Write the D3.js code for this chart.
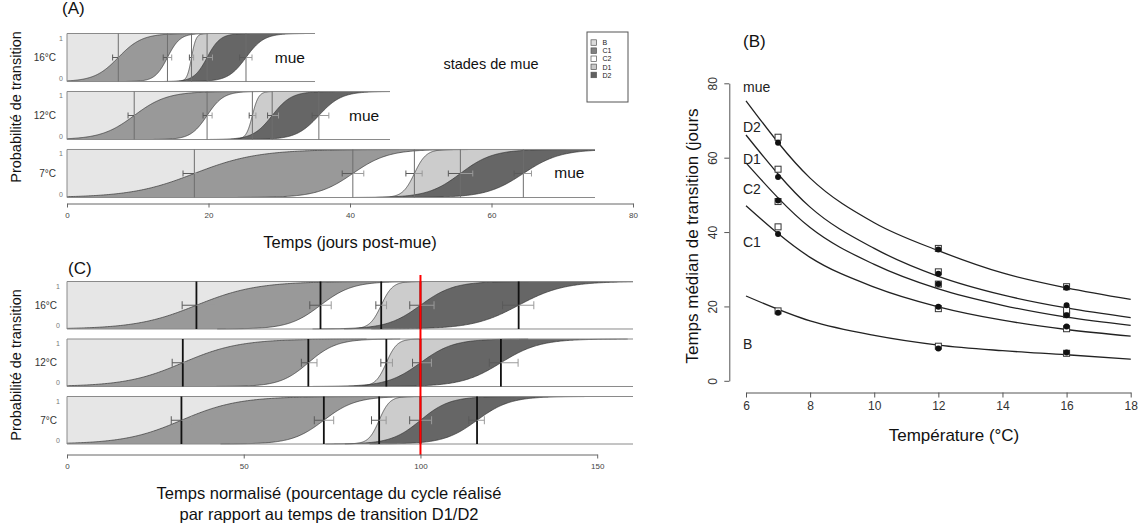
<!DOCTYPE html>
<html>
<head>
<meta charset="utf-8">
<script src="https://cdn.jsdelivr.net/npm/d3@7"></script>
<style>
body { margin: 0; background: #fff; }
svg { font-family: "Liberation Sans", Arial, Helvetica, sans-serif; }
</style>
</head>
<body>
<script>
// ---------- data ----------
const temps = ["16°C", "12°C", "7°C"];
const stages = ["B", "C1", "C2", "D1", "D2"];

// median transition day (B>C1, C1>C2, C2>D1, D1>D2, D2>mue)
const median16 = [7.25, 14.2, 17.6, 19.8, 25.3];
const median12 = [9.5, 19.8, 26.2, 29.0, 35.6];
const median7 = [18.0, 40.4, 49.1, 55.6, 64.5];
// logistic spread of each transition curve (days)
const spread16 = [1.68, 0.89, 0.32, 0.93, 1.27];
const spread12 = [2.32, 1.16, 0.44, 1.36, 1.6];
const spread7 = [4.45, 2.5, 0.83, 2.3, 2.6];
// error bars, lower and upper half (days)
const errLo16 = [0.8, 0.6, 0.3, 0.6, 0.9];
const errHi16 = [1.05, 0.6, 0.3, 0.76, 0.85];
const errLo12 = [0.87, 0.57, 0.45, 0.65, 0.95];
const errHi12 = [0.9, 0.71, 0.5, 0.9, 1.41];
const errLo7 = [1.6, 1.5, 1.2, 1.7, 1.3];
const errHi7 = [1.6, 1.55, 1.1, 1.75, 1.15];
// last day of each strip
const stripEnd = [35.1, 45.6, 74.6];

const ticksA = [0, 20, 40, 60, 80];
const ticksC = [0, 50, 100, 150];

// panel B: fitted curves read at these temperatures
const tempGrid = [6, 8, 10, 12, 14, 16, 18];
const fitC1 = [22.8, 16.1, 12.2, 9.6, 8.1, 7.0, 5.8];
const fitC2 = [47.1, 33.2, 25.2, 19.9, 16.3, 13.8, 12.0];
const fitD1 = [58.6, 41.2, 31.3, 24.7, 20.3, 17.1, 14.9];
const fitD2 = [66.1, 46.7, 35.6, 28.1, 23.1, 19.6, 17.0];
const fitMue = [75.3, 54.5, 42.5, 35.0, 29.0, 25.0, 21.9];
// observed points (7, 12, 16 °C)
const obsTemps = [7, 12, 16];
const dotC1 = [18.3, 8.7, 7.6], sqC1 = [18.8, 9.3, 7.4];
const dotC2 = [39.5, 19.9, 14.6], sqC2 = [41.4, 19.4, 14.0];
const dotD1 = [48.5, 26.0, 17.6], sqD1 = [48.2, 26.0, 17.8];
const dotD2 = [54.8, 28.8, 20.3], sqD2 = [56.9, 29.3, 19.0];
const dotMue = [64.0, 35.3, 25.0], sqMue = [65.5, 35.6, 25.3];
const regionLabels = ["mue", "D2", "D1", "C2", "C1", "B"];
const regionLabelY = [79.0, 68.3, 59.6, 51.5, 37.3, 9.8];
const ticksBx = [6, 8, 10, 12, 14, 16, 18];
const ticksBy = [0, 20, 40, 60, 80];

// ---------- styles ----------
const fillColors = ["#e6e6e6", "#999999", "#ffffff", "#cccccc", "#666666", "#ffffff"];
const legendColors = ["#dcdcdc", "#808080", "#ffffff", "#c8c8c8", "#606060"];

const medians = [median16, median12, median7];
const spreads = [spread16, spread12, spread7];
const errLo = [errLo16, errLo12, errLo7];
const errHi = [errHi16, errHi12, errHi7];

const svg = d3.select("body").append("svg")
    .attr("width", 1146)
    .attr("height", 528);

const logistic = (t, m, s) => 1 / (1 + Math.exp(-(t - m) / s));

// one strip of stacked stage areas
function drawStrip(g, x, top, h, end, med, spr, lo, hi, st) {
    const yP = d3.scaleLinear([0, 1], [top + h, top]);
    const xEnd = Math.round(x(end)); // whole pixel, avoids a seam at the right edge
    const xs = t => (t >= end ? xEnd : x(t));
    const ts = d3.range(0, end, end / 700).concat([end]);
    g.append("rect")
        .attr("x", x(0)).attr("y", top)
        .attr("width", xEnd - x(0)).attr("height", h)
        .attr("fill", fillColors[0]);
    med.forEach((m, i) => {
        const area = d3.area()
            .x(t => xs(t))
            .y0(yP(0))
            .y1(t => yP(logistic(t, m, spr[i])));
        g.append("path").datum(ts).attr("d", area).attr("fill", fillColors[i + 1]);
    });
    //curve outlines
    med.forEach((m, i) => {
        const a = Math.max(0, m - 6.5 * spr[i]), b = Math.min(end, m + 6.5 * spr[i]);
        const tt = d3.range(a, b, (b - a) / 200).concat([b]);
        g.append("path").datum(tt)
            .attr("d", d3.line().x(t => xs(t)).y(t => yP(logistic(t, m, spr[i]))))
            .attr("fill", "none")
            .attr("stroke", "#333")
            .attr("stroke-width", 0.7);
    });
    // borders (open on the right)
    g.append("path")
        .attr("d", `M${xEnd},${top}H${x(0)}V${top + h}H${xEnd}`)
        .attr("fill", "none")
        .attr("stroke", "#8a8a8a")
        .attr("stroke-width", 1);
    // median lines
    med.forEach(m => {
        g.append("line")
            .attr("x1", x(m)).attr("x2", x(m))
            .attr("y1", top).attr("y2", top + h)
            .attr("stroke", st.vColor)
            .attr("stroke-width", st.vWidth);
    });
    // error bars
    const ym = yP(0.5);
    med.forEach((m, i) => {
        const parts = [[m - lo[i], m, "#5a5a5a"], [m, m + hi[i], "#9a9a9a"]];
        parts.forEach(([a, b, c], k) => {
            const xe = k === 0 ? x(a) : x(b);
            g.append("path")
                .attr("d", `M${x(a)},${ym}H${x(b)}M${xe},${ym - st.cap}V${ym + st.cap}`)
                .attr("fill", "none")
                .attr("stroke", c)
                .attr("stroke-width", 1);
        });
    });
}

// ---------- panel A ----------
const xA = d3.scaleLinear([0, 80], [67, 633]);
const yA = d3.scaleBand(temps, [33.5, 197.5]).paddingInner(0.172);
const gA = svg.append("g");

temps.forEach((tp, j) => {
    const top = yA(tp), h = yA.bandwidth();
    drawStrip(gA, xA, top, h, stripEnd[j], medians[j], spreads[j], errLo[j], errHi[j],
        { vColor: "#6e6e6e", vWidth: 1, cap: 3 });
    gA.append("text").attr("x", 56).attr("y", top + h / 2 + 3.5)
        .attr("text-anchor", "end").attr("font-size", 10).attr("fill", "#333").text(tp);
    gA.append("text").attr("x", 63).attr("y", top + 7)
        .attr("text-anchor", "end").attr("font-size", 7).attr("fill", "#777").text("1");
    gA.append("text").attr("x", 63).attr("y", top + h - 1)
        .attr("text-anchor", "end").attr("font-size", 7).attr("fill", "#777").text("0");
    gA.append("text").attr("x", xA(stripEnd[j] - 3.6)).attr("y", top + h / 2 + 5)
        .attr("text-anchor", "middle").attr("font-size", 15.5).attr("fill", "#111").text("mue");
});

const axA = gA.append("g")
    .attr("transform", "translate(0,203.5)")
    .call(d3.axisBottom(xA).tickValues(ticksA).tickSize(4).tickSizeOuter(0).tickPadding(5));
axA.selectAll("path,line").attr("stroke", "#666");
axA.selectAll("text").attr("font-size", 8).attr("fill", "#444").attr("font-family", null);

gA.append("text").attr("x", 350).attr("y", 248).attr("text-anchor", "middle")
    .attr("font-size", 16.5).attr("fill", "#111").text("Temps (jours post-mue)");
gA.append("text").attr("x", 62).attr("y", 14).attr("font-size", 17).attr("fill", "#111").text("(A)");
gA.append("text").attr("transform", "translate(21,107) rotate(-90)")
    .attr("text-anchor", "middle").attr("font-size", 14.5).attr("fill", "#111")
    .text("Probabilité de transition");
gA.append("text").attr("x", 491).attr("y", 69).attr("text-anchor", "middle")
    .attr("font-size", 14.5).attr("fill", "#111").text("stades de mue");

// legend
const leg = gA.append("g");
leg.append("rect").attr("x", 587).attr("y", 32).attr("width", 41).attr("height", 70)
    .attr("fill", "#fff").attr("stroke", "#555").attr("stroke-width", 1);
stages.forEach((s, i) => {
    const yy = 42.6 + i * 8.1;
    leg.append("rect").attr("x", 591).attr("y", yy - 2.8).attr("width", 5.5).attr("height", 5.5)
        .attr("fill", legendColors[i]).attr("stroke", "#555").attr("stroke-width", 0.7);
    leg.append("text").attr("x", 602.5).attr("y", yy + 2.6).attr("font-size", 7)
        .attr("fill", "#222").text(s);
});

// ---------- panel C ----------
const xC = d3.scaleLinear([0, 150], [67, 597.2]);
const yC = d3.scaleBand(temps, [281.5, 444]).paddingInner(0.174);
const gC = svg.append("g");

temps.forEach((tp, j) => {
    const top = yC(tp), h = yC.bandwidth();
    const k = 100 / medians[j][3];
    const sc = arr => arr.map(v => v * k);
    drawStrip(gC, xC, top, h, 160, sc(medians[j]), sc(spreads[j]), sc(errLo[j]), sc(errHi[j]),
        { vColor: "#111", vWidth: 1.8, cap: 4 });
    gC.append("text").attr("x", 57).attr("y", top + h / 2 + 3.5)
        .attr("text-anchor", "end").attr("font-size", 10).attr("fill", "#333").text(tp);
    gC.append("text").attr("x", 60).attr("y", top + 7)
        .attr("text-anchor", "end").attr("font-size", 7).attr("fill", "#777").text("1");
    gC.append("text").attr("x", 60).attr("y", top + h - 1)
        .attr("text-anchor", "end").attr("font-size", 7).attr("fill", "#777").text("0");
});

gC.append("line")
    .attr("x1", xC(100)).attr("x2", xC(100))
    .attr("y1", 275).attr("y2", 455)
    .attr("stroke", "#ff0000").attr("stroke-width", 2);

const axC = gC.append("g")
    .attr("transform", "translate(0,454.5)")
    .call(d3.axisBottom(xC).tickValues(ticksC).tickSize(4).tickSizeOuter(0).tickPadding(5));
axC.selectAll("path,line").attr("stroke", "#666");
axC.selectAll("text").attr("font-size", 8).attr("fill", "#444").attr("font-family", null);

gC.append("text").attr("x", 68).attr("y", 274).attr("font-size", 17).attr("fill", "#111").text("(C)");
gC.append("text").attr("transform", "translate(21,365) rotate(-90)")
    .attr("text-anchor", "middle").attr("font-size", 14.5).attr("fill", "#111")
    .text("Probabilité de transition");
gC.append("text").attr("x", 329).attr("y", 499).attr("text-anchor", "middle")
    .attr("font-size", 16.5).attr("fill", "#111")
    .text("Temps normalisé (pourcentage du cycle réalisé");
gC.append("text").attr("x", 329).attr("y", 520).attr("text-anchor", "middle")
    .attr("font-size", 16.5).attr("fill", "#111")
    .text("par rapport au temps de transition D1/D2");

// ---------- panel B ----------
const xB = d3.scaleLinear([6, 18], [746, 1130.7]);
const yB = d3.scaleLinear([0, 80], [380.8, 83.3]);
const gB = svg.append("g");

const axBx = gB.append("g")
    .attr("transform", "translate(0,392.5)")
    .call(d3.axisBottom(xB).tickValues(ticksBx).tickSize(5).tickSizeOuter(0).tickPadding(4));
axBx.selectAll("path,line").attr("stroke", "#555");
axBx.selectAll("text").attr("font-size", 12).attr("fill", "#333").attr("font-family", null);

const axBy = gB.append("g")
    .attr("transform", "translate(729.3,0)")
    .call(d3.axisLeft(yB).tickValues(ticksBy).tickSize(5).tickSizeOuter(0));
axBy.selectAll("path,line").attr("stroke", "#555");
axBy.selectAll("text")
    .attr("font-size", 12).attr("fill", "#333").attr("font-family", null)
    .attr("x", 0).attr("y", -12).attr("dy", 0)
    .attr("text-anchor", "middle")
    .attr("transform", "rotate(-90)");

const fits = [fitC1, fitC2, fitD1, fitD2, fitMue];
const line = d3.line()
    .x((d, i) => xB(tempGrid[i]))
    .y(d => yB(d))
    .curve(d3.curveMonotoneX);
fits.forEach(f => {
    gB.append("path").datum(f).attr("d", line)
        .attr("fill", "none").attr("stroke", "#222").attr("stroke-width", 1.3);
});

const squares = [sqC1, sqC2, sqD1, sqD2, sqMue];
const dots = [dotC1, dotC2, dotD1, dotD2, dotMue];
squares.forEach(s => {
    gB.selectAll(null).data(s).enter().append("rect")
        .attr("x", (d, i) => xB(obsTemps[i]) - 3)
        .attr("y", d => yB(d) - 3)
        .attr("width", 6).attr("height", 6)
        .attr("fill", "#fff").attr("stroke", "#333").attr("stroke-width", 1);
});
dots.forEach(s => {
    gB.selectAll(null).data(s).enter().append("circle")
        .attr("cx", (d, i) => xB(obsTemps[i]))
        .attr("cy", d => yB(d))
        .attr("r", 3)
        .attr("fill", "#111");
});

regionLabels.forEach((l, i) => {
    gB.append("text").attr("x", xB(6) - 3).attr("y", yB(regionLabelY[i]) + 5)
        .attr("font-size", 14).attr("fill", "#222").text(l);
});

gB.append("text").attr("x", 743).attr("y", 47).attr("font-size", 17).attr("fill", "#111").text("(B)");
gB.append("text").attr("transform", "translate(698,236) rotate(-90)")
    .attr("text-anchor", "middle").attr("font-size", 17).attr("fill", "#111")
    .text("Temps médian de transition (jours");
gB.append("text").attr("x", 954).attr("y", 441).attr("text-anchor", "middle")
    .attr("font-size", 17).attr("fill", "#111").text("Température (°C)");
</script>
</body>
</html>
